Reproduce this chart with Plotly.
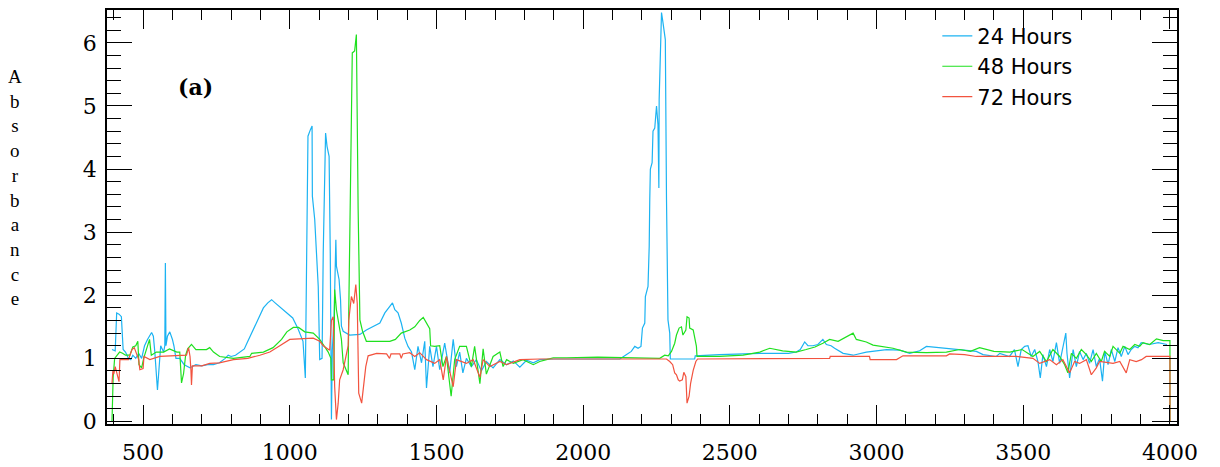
import plotly.graph_objects as go

# --- data: (wavenumber, absorbance) ---
pts_24 = [
    (394, 1.14), (405, 1.12), (410, 1.72), (418, 1.70), (426, 1.66), (432, 1.14), (440, 1.10),
    (450, 1.00), (458, 0.98), (465, 1.05), (475, 1.00), (485, 1.08), (495, 1.00), (505, 1.20),
    (515, 1.30), (529, 1.41), (535, 1.35), (540, 1.10), (549, 0.50), (555, 0.90), (560, 1.20),
    (570, 1.10), (574, 1.20), (576, 2.51), (578, 1.20), (583, 1.35), (591, 1.42), (600, 1.30),
    (605, 1.20), (612, 1.00), (625, 1.00), (640, 0.90), (660, 0.85), (680, 0.90), (700, 0.88),
    (720, 0.90), (740, 0.90), (760, 0.93), (780, 1.00), (790, 1.05), (800, 1.03), (815, 1.05),
    (830, 1.10), (845, 1.15), (855, 1.25), (865, 1.35), (880, 1.50), (895, 1.65), (910, 1.80),
    (925, 1.88), (938, 1.93), (950, 1.88), (965, 1.82), (977, 1.77), (990, 1.72), (1000, 1.69),
    (1010, 1.64), (1028, 1.47), (1045, 1.27), (1053, 0.69), (1062, 4.52), (1070, 4.62),
    (1076, 4.68), (1077, 3.57), (1085, 3.20), (1091, 2.67), (1097, 2.14), (1102, 0.98),
    (1110, 1.00), (1114, 2.67), (1122, 4.57), (1127, 4.36), (1134, 4.20), (1138, 2.67),
    (1142, 0.03), (1145, 1.13), (1151, 1.66), (1157, 2.88), (1159, 2.46), (1168, 2.25),
    (1173, 1.93), (1176, 1.51), (1182, 1.43), (1204, 1.37), (1239, 1.38), (1261, 1.45),
    (1284, 1.50), (1307, 1.56), (1324, 1.72), (1341, 1.82), (1350, 1.88), (1358, 1.77),
    (1369, 1.72), (1380, 1.56), (1392, 1.32), (1403, 1.19), (1415, 1.10), (1426, 0.82),
    (1437, 1.19), (1449, 0.93), (1460, 1.27), (1466, 0.53), (1477, 1.19), (1488, 0.87),
    (1500, 1.19), (1511, 0.82), (1528, 1.24), (1545, 0.77), (1557, 1.30), (1568, 0.87),
    (1579, 1.10), (1590, 0.77), (1602, 1.00), (1619, 0.87), (1636, 0.98), (1653, 0.80),
    (1670, 0.95), (1693, 0.85), (1716, 0.98), (1739, 0.90), (1762, 0.96), (1784, 0.86),
    (1807, 0.97), (1830, 0.93), (1852, 0.98), (1900, 0.99), (2125, 0.99), (2148, 1.06),
    (2164, 1.11), (2176, 1.19), (2187, 1.16), (2197, 1.19), (2202, 1.48), (2210, 1.56),
    (2212, 1.98), (2221, 2.14), (2225, 2.77), (2227, 3.52), (2229, 4.00), (2235, 4.10),
    (2238, 4.60), (2244, 4.65), (2250, 5.00), (2255, 4.70), (2258, 3.70), (2259, 5.10),
    (2267, 6.48), (2272, 6.32), (2280, 6.05), (2284, 3.52), (2289, 1.61), (2295, 1.40),
    (2297, 0.99), (2380, 0.99), (2382, 1.04), (2465, 1.06), (2545, 1.07), (2602, 1.08),
    (2700, 1.08), (2726, 1.10), (2740, 1.14), (2755, 1.26), (2766, 1.20), (2783, 1.20),
    (2800, 1.22), (2817, 1.30), (2829, 1.22), (2845, 1.20), (2857, 1.16), (2874, 1.11),
    (2886, 1.08), (2920, 1.05), (2965, 1.10), (3034, 1.14), (3079, 1.13), (3113, 1.08),
    (3147, 1.12), (3170, 1.19), (3238, 1.16), (3283, 1.14), (3300, 1.13), (3340, 1.11),
    (3363, 1.06), (3408, 1.03), (3420, 1.08), (3453, 1.03), (3470, 1.14), (3482, 0.87),
    (3493, 1.14), (3505, 1.19), (3516, 1.20), (3527, 1.03), (3539, 1.14), (3550, 0.95),
    (3558, 0.69), (3567, 1.06), (3579, 0.87), (3590, 1.14), (3601, 0.95), (3613, 1.25),
    (3624, 0.92), (3635, 1.19), (3645, 1.40), (3649, 1.08), (3658, 0.69), (3670, 1.14),
    (3681, 0.87), (3692, 1.11), (3704, 0.98), (3715, 1.08), (3726, 0.92), (3738, 1.14),
    (3749, 0.87), (3760, 1.00), (3770, 0.64), (3778, 1.11), (3789, 0.90), (3800, 1.14),
    (3812, 0.95), (3823, 1.17), (3834, 1.03), (3846, 1.19), (3857, 1.06), (3868, 1.14),
    (3880, 1.19), (3891, 1.17), (3902, 1.25), (3930, 1.22), (3960, 1.25), (3990, 1.22),
]

pts_48 = [
    (394, 0.00), (398, 0.70), (403, 1.00), (412, 1.05), (420, 1.10), (430, 1.08), (440, 1.05),
    (455, 1.05), (465, 1.18), (475, 1.20), (482, 1.27), (486, 0.90), (495, 0.85), (502, 1.00),
    (515, 1.22), (522, 1.30), (528, 1.05), (545, 1.10), (570, 1.10), (590, 1.15), (615, 1.10),
    (625, 1.10), (631, 0.61), (638, 0.76), (645, 1.05), (652, 1.15), (665, 1.22), (680, 1.14),
    (716, 1.14), (727, 1.17), (740, 1.10), (761, 1.03), (808, 1.00), (864, 1.03), (870, 1.08),
    (910, 1.10), (943, 1.17), (972, 1.30), (990, 1.42), (1012, 1.49), (1030, 1.49), (1051, 1.42),
    (1080, 1.40), (1102, 1.30), (1114, 1.22), (1131, 1.10), (1140, 1.00), (1142, 0.66),
    (1150, 0.66), (1153, 2.09), (1159, 1.77), (1176, 1.30), (1182, 0.93), (1199, 0.74),
    (1201, 1.72), (1210, 4.68), (1213, 5.84), (1221, 5.87), (1227, 6.13), (1233, 3.36),
    (1239, 1.61), (1248, 1.43), (1261, 1.27), (1341, 1.27), (1360, 1.30), (1380, 1.40),
    (1409, 1.45), (1426, 1.50), (1443, 1.60), (1455, 1.65), (1466, 1.55), (1477, 1.47),
    (1480, 1.20), (1494, 1.19), (1511, 1.20), (1522, 0.87), (1534, 1.03), (1550, 0.40),
    (1562, 0.98), (1579, 1.19), (1602, 1.19), (1619, 0.87), (1630, 1.19), (1648, 0.60),
    (1659, 1.15), (1670, 0.75), (1693, 1.03), (1716, 1.10), (1727, 0.87), (1739, 0.98),
    (1762, 0.92), (1795, 0.98), (1830, 0.90), (1852, 0.95), (1875, 0.98), (1898, 1.01),
    (1943, 1.01), (2050, 1.02), (2261, 1.00), (2278, 1.05), (2290, 1.04), (2301, 1.11),
    (2312, 1.24), (2318, 1.37), (2327, 1.48), (2335, 1.50), (2340, 1.37), (2350, 1.45),
    (2354, 1.66), (2361, 1.64), (2363, 1.48), (2375, 1.45), (2386, 1.19), (2388, 1.03),
    (2465, 1.03), (2545, 1.05), (2602, 1.10), (2636, 1.16), (2680, 1.12), (2726, 1.10),
    (2760, 1.14), (2790, 1.18), (2817, 1.24), (2840, 1.30), (2869, 1.27), (2903, 1.35),
    (2920, 1.40), (2931, 1.30), (2965, 1.26), (2988, 1.21), (3011, 1.19), (3056, 1.16),
    (3102, 1.10), (3170, 1.09), (3238, 1.10), (3283, 1.14), (3320, 1.11), (3351, 1.17),
    (3400, 1.11), (3454, 1.10), (3496, 1.14), (3533, 1.03), (3556, 1.11), (3579, 0.95),
    (3601, 1.14), (3624, 1.03), (3641, 0.90), (3652, 0.77), (3664, 1.08), (3681, 1.00),
    (3698, 1.14), (3715, 1.06), (3732, 0.95), (3749, 1.08), (3766, 0.95), (3777, 1.11),
    (3795, 1.03), (3806, 1.19), (3829, 1.08), (3840, 1.19), (3863, 1.14), (3880, 1.22),
    (3897, 1.19), (3908, 1.25), (3931, 1.22), (3954, 1.31), (3977, 1.28), (4000, 1.28),
    (4000, 0.00),
]

pts_72 = [
    (394, 0.60), (397, 0.80), (400, 0.75), (405, 0.87), (418, 0.63), (421, 0.98), (450, 0.98),
    (462, 1.14), (470, 1.17), (479, 1.07), (485, 0.98), (489, 0.82), (500, 0.84), (503, 1.03),
    (523, 0.98), (557, 1.03), (625, 1.05), (648, 1.05), (655, 1.17), (660, 1.03), (663, 0.82),
    (665, 0.58), (668, 0.88), (700, 0.88), (727, 0.92), (760, 0.93), (808, 0.98), (857, 1.00),
    (898, 1.05), (932, 1.10), (966, 1.20), (1000, 1.30), (1080, 1.32), (1102, 1.27),
    (1114, 1.20), (1136, 1.13), (1142, 1.60), (1148, 1.66), (1153, 0.55), (1159, 0.03),
    (1165, 0.29), (1170, 0.66), (1182, 0.82), (1199, 1.20), (1201, 1.60), (1210, 1.98),
    (1218, 1.87), (1225, 2.17), (1230, 1.87), (1235, 0.45), (1245, 0.29), (1250, 0.50),
    (1259, 0.87), (1267, 1.04), (1296, 1.08), (1330, 1.07), (1340, 1.00), (1345, 1.07),
    (1375, 1.07), (1380, 1.00), (1385, 1.07), (1409, 1.09), (1426, 1.03), (1443, 1.09),
    (1466, 0.98), (1494, 0.92), (1511, 0.98), (1523, 0.66), (1534, 1.03), (1557, 0.55),
    (1568, 0.98), (1602, 0.92), (1625, 0.98), (1648, 0.70), (1659, 0.98), (1682, 0.87),
    (1716, 0.95), (1739, 0.90), (1784, 0.98), (1852, 0.99), (2284, 0.99), (2295, 0.95),
    (2305, 0.90), (2312, 0.77), (2318, 0.74), (2324, 0.66), (2329, 0.64), (2338, 0.66),
    (2343, 0.78), (2350, 0.71), (2354, 0.29), (2361, 0.40), (2366, 0.60), (2375, 0.81),
    (2384, 0.95), (2390, 0.99), (2840, 1.00), (2842, 1.03), (2976, 1.03), (2978, 0.98),
    (3068, 0.98), (3090, 1.04), (3238, 1.04), (3249, 1.07), (3300, 1.06), (3340, 1.03),
    (3476, 1.03), (3533, 1.00), (3556, 0.92), (3590, 0.98), (3613, 0.90), (3635, 0.98),
    (3658, 0.77), (3675, 0.95), (3692, 0.92), (3715, 0.98), (3732, 0.74), (3749, 0.85),
    (3760, 0.95), (3806, 0.92), (3829, 0.95), (3851, 0.77), (3863, 0.98), (3885, 0.95),
    (3903, 0.98), (3919, 1.03), (4000, 1.03), (4000, 0.00),
]

wn_24, abs_24 = zip(*pts_24)
wn_48, abs_48 = zip(*pts_48)
wn_72, abs_72 = zip(*pts_72)

series_names = ["24 Hours", "48 Hours", "72 Hours"]
series_colors = ["#1cb3f2", "#1fe01f", "#f2533f"]

x_ticks = [500, 1000, 1500, 2000, 2500, 3000, 3500, 4000]
y_ticks = [0, 1, 2, 3, 4, 5, 6]

fig = go.Figure()

for name, xs, ys, col in zip(series_names, [wn_24, wn_48, wn_72],
                             [abs_24, abs_48, abs_72], series_colors):
    fig.add_trace(go.Scatter(
        x=list(xs), y=list(ys), name=name, mode="lines",
        line=dict(color=col, width=1.2),
    ))

axis_common = dict(
    showline=True, linecolor="black", linewidth=1.5, mirror="allticks",
    ticks="inside", tickcolor="black", showgrid=False, zeroline=False,
    automargin=False,
    tickfont=dict(family="DejaVu Serif", size=22, color="black"),
)

fig.update_xaxes(
    range=[377, 4024], tickvals=x_ticks, ticklen=19, tickwidth=1.2,
    ticklabelstandoff=8,
    minor=dict(dtick=100, tick0=0, ticklen=10, ticks="inside", tickcolor="black", tickwidth=1),
    **axis_common,
)
fig.update_yaxes(
    range=[-0.04, 6.52], tickvals=y_ticks, ticklen=25, tickwidth=1.2,
    ticklabelstandoff=4,
    minor=dict(dtick=0.2, tick0=0, ticklen=14, ticks="inside", tickcolor="black", tickwidth=1),
    **axis_common,
)

# vertical y label, one letter per line
fig.add_annotation(
    text="<br>".join("Absorbance"), xref="paper", yref="paper",
    x=-0.086, y=0.571, xanchor="center", yanchor="middle", showarrow=False,
    font=dict(family="Liberation Serif", size=19, color="black"),
)

fig.add_annotation(
    text="<b>(a)</b>", xref="paper", yref="paper", x=0.083, y=0.815,
    xanchor="center", yanchor="middle",
    showarrow=False, font=dict(family="DejaVu Serif", size=22, color="black"),
)

# page body has an 8px default margin, so margins are shifted to compensate
fig.update_layout(
    width=1220, height=467,
    margin=dict(l=99, r=51, t=2, b=51),
    paper_bgcolor="white", plot_bgcolor="white",
    legend=dict(
        x=0.776, y=0.986, xanchor="left", yanchor="top",
        bgcolor="rgba(0,0,0,0)", borderwidth=0,
        font=dict(family="DejaVu Sans", size=21, color="black"),
        tracegroupgap=0,
    ),
    showlegend=True,
)

fig.write_html("out.html")
